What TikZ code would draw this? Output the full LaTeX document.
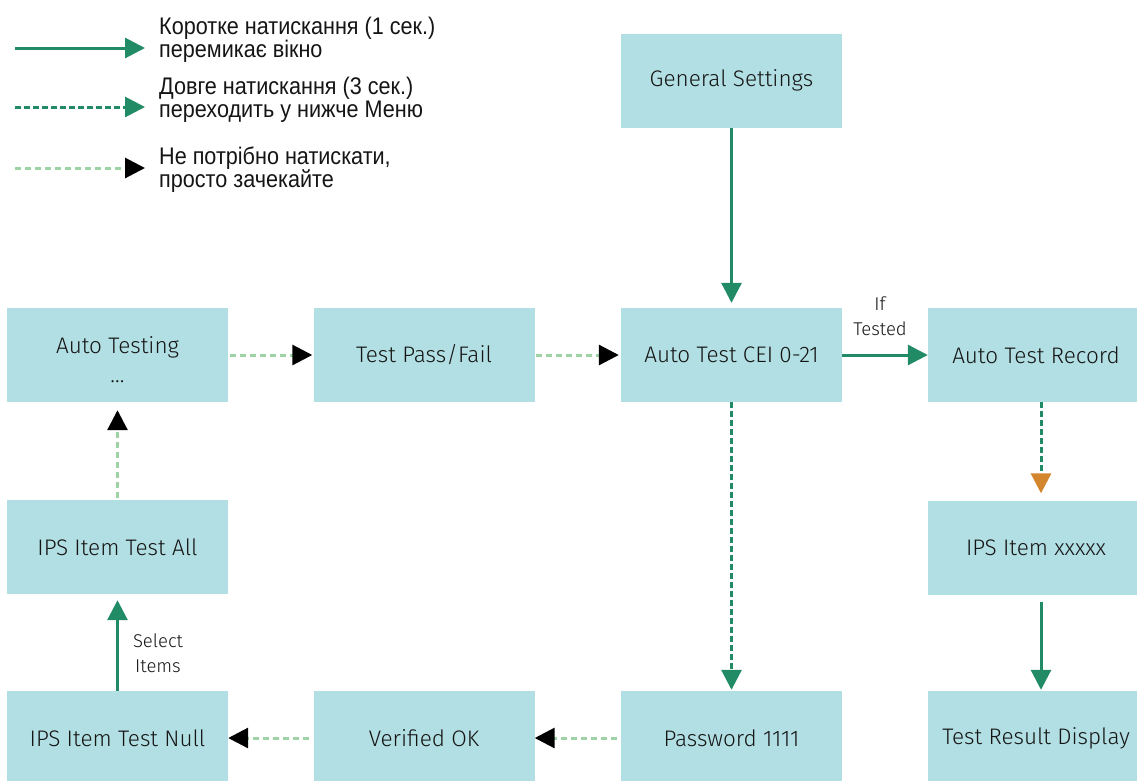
\documentclass[tikz,border=0pt]{standalone}
\usepackage{fontspec}
\setmainfont{Fira Sans}[UprightFont=* Light]
\newfontfamily\legendfont{Liberation Sans}[FakeStretch=0.9]
\usetikzlibrary{arrows.meta}
\definecolor{boxfill}{HTML}{B2DFE3}
\definecolor{dgreen}{HTML}{218B66}
\definecolor{lgreen}{HTML}{9ED3A6}
\definecolor{otip}{HTML}{D4862E}
\definecolor{txt}{HTML}{151515}
\begin{document}
\begin{tikzpicture}[x=1pt,y=-1pt,
 box/.style={fill=boxfill, minimum width=221pt, minimum height=94pt, inner sep=0pt, text=txt, font=\fontsize{22.5}{30}\selectfont, align=center},
 rbox/.style={box, minimum width=216pt},
 tipg/.style={-{Triangle[length=20pt,width=20pt]}},
 short/.style={tipg, dgreen, line width=3pt},
 long/.style={tipg, dgreen, line width=3pt, dash pattern=on 6pt off 3pt},
 wait/.style={-{Triangle[length=20pt,width=20pt,color=black]}, lgreen, line width=3pt, dash pattern=on 6pt off 4pt},
 lbl/.style={font=\fontsize{18.5}{25}\selectfont, text=txt, align=center},
 leg/.style={font=\legendfont\fontsize{24}{23}\selectfont, anchor=west, align=left, text=txt, inner sep=0pt}
]
\clip (0,0) rectangle (1137,780);
\fill[white] (0,0) rectangle (1137,780);
% legend
\coordinate (l1a) at (15,48); \coordinate (l1b) at (145,48);
\coordinate (l2a) at (15,107); \coordinate (l2b) at (145,107);
\coordinate (l3a) at (15,168); \coordinate (l3b) at (145,168);
\draw[short] (l1a) -- (l1b);
\draw[long] (l2a) -- (l2b);
\draw[wait] (l3a) -- (l3b);
\node[leg] (t1) at (159,40) {Коротке натискання (1 сек.)\\перемикає вікно};
\node[leg] (t2) at (159,99.5) {Довге натискання (3 сек.)\\переходить у нижче Меню};
\node[leg] (t3) at (159,170) {Не потрібно натискати,\\просто зачекайте};
% boxes
\node[box] (gs) at (731.5,80.5) {General Settings};
\node[box] (at) at (117.5,355) {\rule{0pt}{26pt}Auto Testing\\[-1pt]…};
\node[box] (pf) at (424,355) {Test Pass/Fail};
\node[box] (cei) at (731.5,355) {Auto Test CEI 0-21};
\node[rbox] (rec) at (1036,355) {Auto Test Record};
\node[box] (all) at (117.5,547) {IPS Item Test All};
\node[rbox] (ipx) at (1036,547.5) {IPS Item xxxxx};
\node[box] (nul) at (117.5,738) {IPS Item Test Null};
\node[box] (vok) at (424,738) {Verified OK};
\node[box] (pw) at (731.5,738) {Password 1111};
\node[rbox] (trd) at (1036,738) {Test Result Display};
% connectors
\draw[short, shorten >=5pt] (gs.south) -- (cei.north);
\draw[wait, shorten <=2pt, shorten >=1pt] (at.east) -- (pf.west);
\draw[wait, shorten <=1pt, shorten >=2pt] (pf.east) -- (cei.west);
\draw[short] (cei.east) -- (rec.west);
\draw[long, shorten >=1pt] (cei.south) -- (pw.north);
\draw[long, -{Triangle[length=20pt,width=20pt,color=otip]}, shorten >=7pt] ([xshift=5pt]rec.south) -- ([xshift=5pt]ipx.north);
\draw[short, shorten <=7pt, shorten >=1pt] ([xshift=5pt]ipx.south) -- ([xshift=5pt]trd.north);
\draw[wait, shorten <=4pt] (pw.west) -- (vok.east);
\draw[wait, shorten <=4pt] (vok.west) -- (nul.east);
\draw[short, shorten >=6pt] (nul.north) -- (all.south);
\draw[wait, shorten <=2pt, shorten >=8pt] (all.north) -- (at.south);
% labels
\node[lbl] (lif) at (880,316) {If\\Tested};
\node[lbl] (lsel) at (158,653) {Select\\Items};
\end{tikzpicture}
\end{document}
